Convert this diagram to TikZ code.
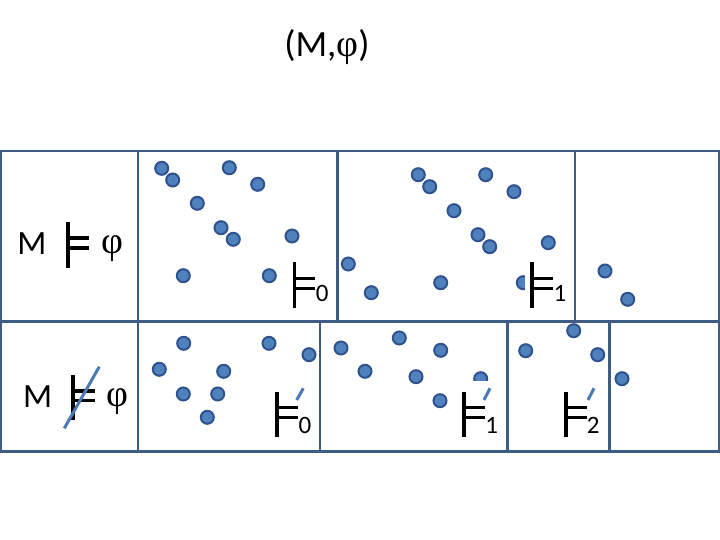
\documentclass[tikz,border=0pt]{standalone}
\usepackage{fontspec}
\setmainfont{Carlito}
\newfontfamily\phifont{Liberation Serif}
\definecolor{frame}{HTML}{3E5C84}
\definecolor{dotfill}{HTML}{4F81BD}
\definecolor{dotline}{HTML}{2F528F}
\definecolor{slash}{HTML}{4A7AB5}

\tikzset{
  cell/.style={frame,line width=2.5pt},
  world/.style={circle,fill=dotfill,draw=dotline,line width=2pt,minimum size=13pt,inner sep=0pt},
  tbar/.style={black,line width=3.6pt},
  negslash/.style={slash,line width=3pt},
  sub/.style={font=\fontsize{25}{25}\selectfont,inner sep=0pt},
  big/.style={font=\fontsize{34}{34}\selectfont,inner sep=0pt},
  bigphi/.style={font=\fontsize{38}{38}\phifont,inner sep=0pt}
}

% turnstile: #1 = x, #2 = top y, #3 = height, #4 = bar length
\newcommand{\tstile}[4]{%
  \draw[tbar] (#1,#2) -- (#1,#2+#3);
  \draw[tbar] (#1,#2+0.35*#3) -- (#1+#4,#2+0.35*#3);
  \draw[tbar] (#1,#2+0.57*#3) -- (#1+#4,#2+0.57*#3);
}

\begin{document}
\begin{tikzpicture}[x=1pt,y=-1pt]
  \useasboundingbox (0,0) rectangle (720,540);

  % title
  \node[font=\fontsize{37}{37}\selectfont,inner sep=0pt] (title) at (327,47)
    {(M,{\fontsize{38}{38}\phifont φ})};

  % worlds, top row
  \foreach \px/\py in {161.7/168.3, 172.7/180, 229.3/167.7, 257.7/184.3, 197.3/203.3,
                       221/227.7, 233.3/239.3, 292/236, 183.3/275.7, 269.3/275.7, 348.3/264,
                       418.3/174.7, 429.7/186.7, 485.7/174.7, 514/191.7, 454/210.7,
                       478/234.7, 489.7/246.7, 548.3/242.7, 371.3/292.7, 440.7/282.7,
                       523.3/282.7, 605/271, 627.7/299.3}
    \node[world] at (\px,\py) {};

  % worlds, bottom row
  \foreach \px/\py in {183.7/343.3, 269/343.3, 309/354.7, 159.3/369.3, 223.7/371.3,
                       183.3/394, 217.7/394, 207.3/417.3, 341/348, 399.3/338, 440.7/350.3,
                       365/371.3, 416/376.7, 480.7/378.7, 440/400.7, 525.7/350.7,
                       573.7/330.7, 597.7/354.7, 622/378.7}
    \node[world] at (\px,\py) {};

  % blank patches so the turnstiles sit over the dots
  \fill[white] (525,258) rectangle (570,312);
  \fill[white] (462,380.5) rectangle (500,440);

  % frames
  \draw[cell] (1,151) rectangle (719,451.5);
  \draw[cell] (1,321.5) -- (719,321.5);
  \draw[cell] (138,151) -- (138,451.5);
  \draw[cell] (337.7,151) -- (337.7,321.5);
  \draw[cell] (575,151) -- (575,321.5);
  \draw[cell] (320,321.5) -- (320,451.5);
  \draw[cell] (507.3,321.5) -- (507.3,451.5);
  \draw[cell] (609.3,321.5) -- (609.3,451.5);

  % M |= phi
  \node[big] (m1) at (32,243.3) {M};
  \tstile{68}{221.7}{46}{21}
  \node[bigphi] (phi1) at (112.3,249) {φ};

  % M |/= phi
  \node[big] (m2) at (37.7,397) {M};
  \tstile{72.7}{375}{45}{22.3}
  \node[bigphi] (phi2) at (117,402) {φ};
  \draw[negslash] (64.3,428.3) -- (99.3,366.7);

  % indexed turnstiles, top row
  \tstile{294.3}{262.3}{46}{21}
  \node[sub] (t0) at (322.3,293.3) {0};
  \tstile{531.7}{262.3}{46}{21.6}
  \node[sub] (t1) at (560,293.3) {1};

  % indexed negated turnstiles, bottom row
  \tstile{276.7}{391.7}{45}{21.3}
  \node[sub] (n0) at (305,425) {0};
  \draw[negslash] (296.7,400) -- (303.3,388.3);
  \tstile{464}{391.7}{45}{21}
  \node[sub] (n1) at (491.7,425) {1};
  \draw[negslash] (484,400) -- (490,388.3);
  \tstile{565.7}{391.7}{45}{21.6}
  \node[sub] (n2) at (593.3,425) {2};
  \draw[negslash] (588,400) -- (594,388.3);
\end{tikzpicture}
\end{document}
